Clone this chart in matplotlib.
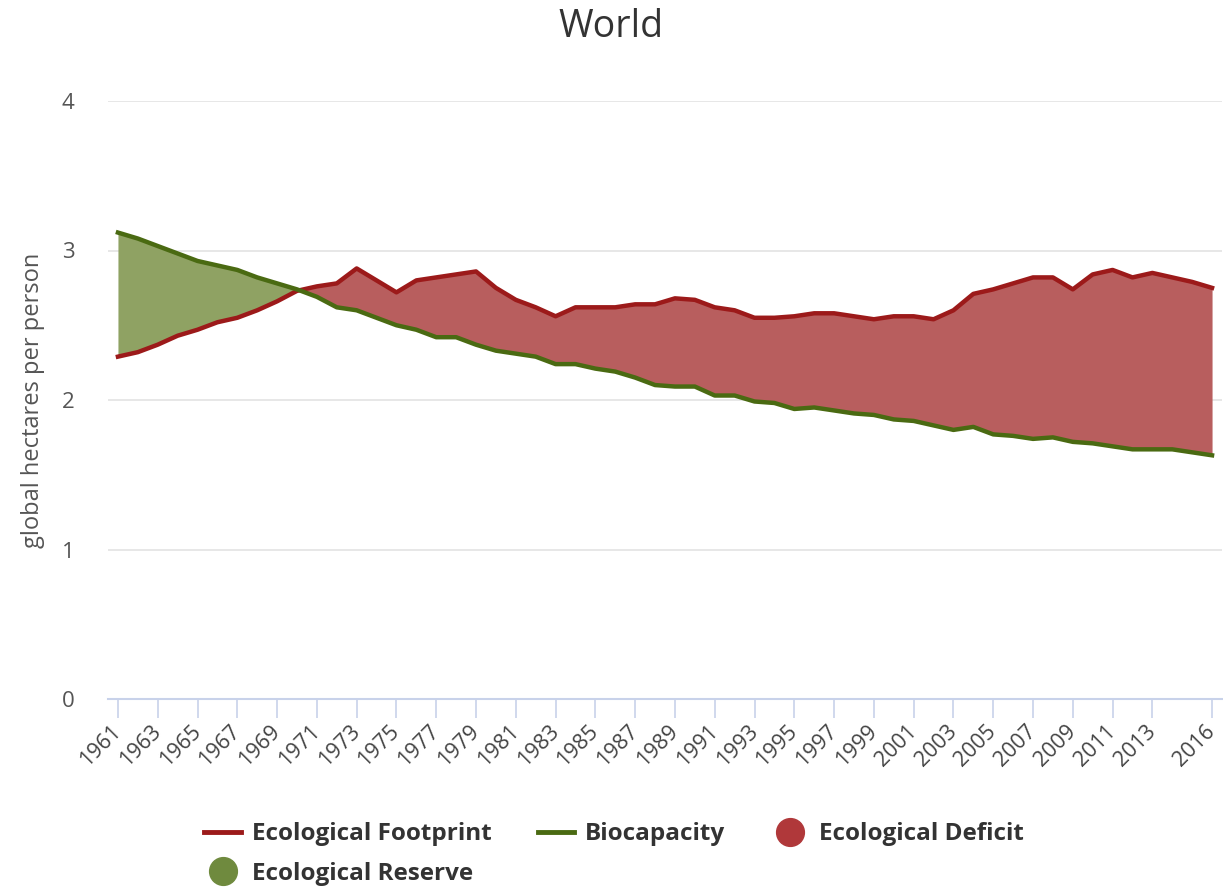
"""World ecological footprint vs biocapacity, 1961-2016."""

import matplotlib

matplotlib.use("Agg")
import matplotlib.pyplot as plt
import numpy as np
from matplotlib.lines import Line2D

plt.rcParams["font.family"] = ["Open Sans", "DejaVu Sans"]

YEARS = list(range(1961, 2017))

# global hectares per person
FOOTPRINT = [
    2.29, 2.32, 2.37, 2.43, 2.47, 2.52, 2.55, 2.60, 2.66, 2.73,
    2.76, 2.78, 2.88, 2.80, 2.72, 2.80, 2.82, 2.84, 2.86, 2.75,
    2.67, 2.62, 2.56, 2.62, 2.62, 2.62, 2.64, 2.64, 2.68, 2.67,
    2.62, 2.60, 2.55, 2.55, 2.56, 2.58, 2.58, 2.56, 2.54, 2.56,
    2.56, 2.54, 2.60, 2.71, 2.74, 2.78, 2.82, 2.82, 2.74, 2.84,
    2.87, 2.82, 2.85, 2.82, 2.79, 2.75,
]
BIOCAPACITY = [
    3.12, 3.08, 3.03, 2.98, 2.93, 2.90, 2.87, 2.82, 2.78, 2.74,
    2.69, 2.62, 2.60, 2.55, 2.50, 2.47, 2.42, 2.42, 2.37, 2.33,
    2.31, 2.29, 2.24, 2.24, 2.21, 2.19, 2.15, 2.10, 2.09, 2.09,
    2.03, 2.03, 1.99, 1.98, 1.94, 1.95, 1.93, 1.91, 1.90, 1.87,
    1.86, 1.83, 1.80, 1.82, 1.77, 1.76, 1.74, 1.75, 1.72, 1.71,
    1.69, 1.67, 1.67, 1.67, 1.65, 1.63,
]
TICK_YEARS = list(range(1961, 2014, 2)) + [2016]

FP_LINE = "#9c1a1a"
BIO_LINE = "#4a6a12"
DEFICIT_FILL = "#b85e5e"
RESERVE_FILL = "#8fa263"
DEFICIT_DOT = "#b0383a"
RESERVE_DOT = "#6f8a3e"


def draw_chart(path="out.png"):
    x = np.array(YEARS)
    fp = np.array(FOOTPRINT)
    bio = np.array(BIOCAPACITY)

    fig = plt.figure(figsize=(12.23, 8.9), dpi=100)
    ax = fig.add_axes([108 / 1223, 191 / 890, 1114 / 1223, 598 / 890])

    ax.fill_between(x, fp, bio, where=bio >= fp, interpolate=True,
                    color=RESERVE_FILL, linewidth=0)
    ax.fill_between(x, fp, bio, where=fp >= bio, interpolate=True,
                    color=DEFICIT_FILL, linewidth=0)
    ax.plot(x, fp, color=FP_LINE, linewidth=3.2, solid_joinstyle="round", zorder=3)
    ax.plot(x, bio, color=BIO_LINE, linewidth=3.2, solid_joinstyle="round", zorder=3)

    ax.set_xlim(1960.5, 2016.5)
    ax.set_ylim(0, 4)
    ax.set_yticks([0, 1, 2, 3, 4])
    ax.set_xticks(TICK_YEARS)
    # anchored at the vertical centre so "2016" does not run past the edge
    ax.set_xticklabels([str(t) for t in TICK_YEARS], rotation=45, ha="right",
                       va="center", rotation_mode="anchor",
                       fontsize=15.5, color="#444444")
    ax.tick_params(axis="x", length=14, width=1.2, color="#c8d2ea", pad=7)
    ax.tick_params(axis="y", length=0, pad=24, labelsize=16, labelcolor="#555555")

    ax.grid(axis="y", color="#e3e3e3", linewidth=1.2)
    ax.set_axisbelow(True)
    for side in ("top", "right", "left"):
        ax.spines[side].set_visible(False)
    ax.spines["bottom"].set_color("#c8d2ea")
    ax.spines["bottom"].set_linewidth(1.5)

    ax.set_ylabel("global hectares per person", fontsize=17, color="#555555", labelpad=12)
    fig.text(0.5, 1 - 27 / 890, "World", ha="center", va="center",
             fontsize=27, color="#333333")

    handles = [
        Line2D([], [], color=FP_LINE, linewidth=3.5),
        Line2D([], [], marker="o", linestyle="none", markersize=20,
               markerfacecolor=RESERVE_DOT, markeredgecolor=RESERVE_DOT),
        Line2D([], [], color=BIO_LINE, linewidth=3.5),
        Line2D([], [], marker="o", linestyle="none", markersize=20,
               markerfacecolor=DEFICIT_DOT, markeredgecolor=DEFICIT_DOT),
    ]
    labels = ["Ecological Footprint", "Ecological Reserve", "Biocapacity", "Ecological Deficit"]
    fig.legend(handles, labels, loc="center", bbox_to_anchor=(0.502, 1 - 854 / 890),
               ncol=3, frameon=False, handlelength=1.5, handletextpad=0.45,
               columnspacing=1.9, labelspacing=0.62,
               prop={"weight": "bold", "size": 17.5}, labelcolor="#333333")

    fig.savefig(path, dpi=100)
    plt.close(fig)


if __name__ == "__main__":
    draw_chart()
